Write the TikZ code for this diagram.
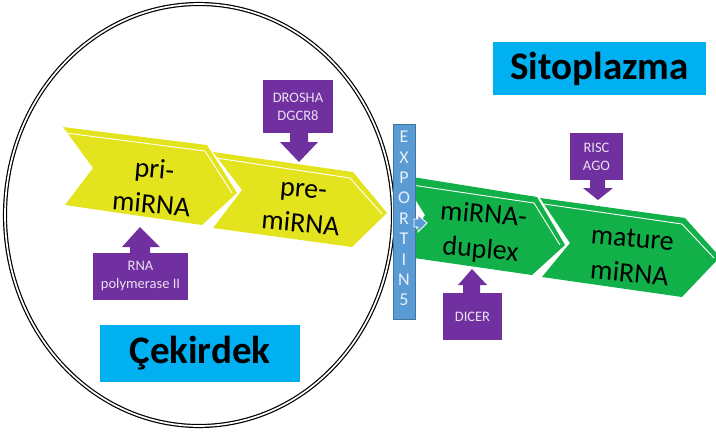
\documentclass[tikz,border=0pt]{standalone}
\usepackage{fontspec}
\setmainfont{Carlito}
\usetikzlibrary{positioning}

\definecolor{chevyellow}{RGB}{228,228,30}
\definecolor{chevgreen}{RGB}{18,176,72}
\definecolor{enzpurple}{RGB}{112,48,160}
\definecolor{labelcyan}{RGB}{0,176,240}
\definecolor{exportblue}{RGB}{91,155,213}

\begin{document}
\begin{tikzpicture}[x=1pt, y=-1pt,
  chevtext/.style={align=center, inner sep=0, rotate=-5, font=\fontsize{28}{35}\selectfont},
  bevel/.style={white, line width=0.9},
  enzyme/.style={fill=enzpurple, inner sep=0},
  enztext/.style={enzyme, align=center, text=white!85!enzpurple, font=\fontsize{14.5}{18}\selectfont},
  region/.style={fill=labelcyan, inner sep=0, font=\bfseries\fontsize{39}{42}\selectfont}]

\useasboundingbox (0,0) rectangle (716,432);

%Nucleus
\draw[double, line width=1.2, double distance=1.7, draw=black] (199,215) ellipse [x radius=194, y radius=211];

% Yellow chevrons
\path[fill=chevyellow] (63,127) -- (207,145) -- (237,193) -- (202,225) -- (65,205) -- (93,168) -- cycle;
\draw[bevel] (66,133) -- (205,151) -- (232,193);
\path[fill=chevyellow] (213,152) -- (353,172) -- (387,213) -- (352,247) -- (213,228) -- (242,190) -- cycle;
\draw[bevel] (216,158) -- (350,178) -- (382,214);

% Green chevrons
\path[fill=chevgreen] (400,175) -- (537,197) -- (565,245) -- (532,275) -- (400,256) -- (425,215) -- cycle;
\draw[bevel] (405,184) -- (534,203) -- (560,245);
\path[fill=chevgreen] (540,198) -- (685,218) -- (720,257) -- (682,297) -- (542,277) -- (570,243) -- cycle;
\draw[bevel] (544,204) -- (682,224) -- (714,258);

%% Chevron labels
\node[chevtext] (pri) at (153,186) {pri-\\miRNA};
\node[chevtext] (pre) at (302,208) {pre-\\miRNA};
\node[chevtext] (duplex) at (482,233) {miRNA-\\duplex};
\node[chevtext] (mature) at (631,256) {mature\\miRNA};

% Exportin 5
\node[fill=exportblue, draw=exportblue!75!black, line width=0.5, minimum width=22, minimum height=195, inner sep=0] (exportin) at (404,221.5) {};
\foreach \ch [count=\i] in {E,X,P,O,R,T,I,N,5}
  \node[text=white!85!exportblue, font=\fontsize{18}{18}\selectfont, inner sep=0] (exp\i) at (404,{137+(\i-1)*20.4}) {\ch};
\path[fill=exportblue, draw=white, line width=0.8] (414,219) -- (418,219) -- (418,215) -- (427,223) -- (418,232) -- (418,227) -- (414,227) -- cycle;

% Enzymes
\fill[enzpurple] (290,132) -- (290,142) -- (280,142) -- (299,162) -- (318,142) -- (308,142) -- (308,132) -- cycle;
\node[enztext, minimum width=70, minimum height=53] (drosha) at (298,106.5) {DROSHA\\DGCR8};

\fill[enzpurple] (130,254) -- (130,247) -- (122,247) -- (140,227) -- (160,247) -- (150,247) -- (150,254) -- cycle;
\node[enztext, minimum width=95, minimum height=47] (polII) at (140.5,276.5) {RNA\\polymerase II};

\fill[enzpurple] (590,179) -- (590,188) -- (583,188) -- (598,200) -- (613,188) -- (605,188) -- (605,179) -- cycle;
\node[enztext, minimum width=53, minimum height=47] (risc) at (596.5,156.5) {RISC\\AGO};

\fill[enzpurple] (463,294) -- (463,285) -- (458,285) -- (472,269) -- (487,285) -- (480,285) -- (480,294) -- cycle;
\node[enztext, minimum width=59, minimum height=47] (dicer) at (472.5,316.5) {DICER};

% Compartments
\node[region, minimum width=200, minimum height=57] (nucleus) at (200,353.5) {Çekirdek};
\node[region, minimum width=213, minimum height=53] (cytoplasm) at (599.5,68.5) {Sitoplazma};

\end{tikzpicture}
\end{document}
